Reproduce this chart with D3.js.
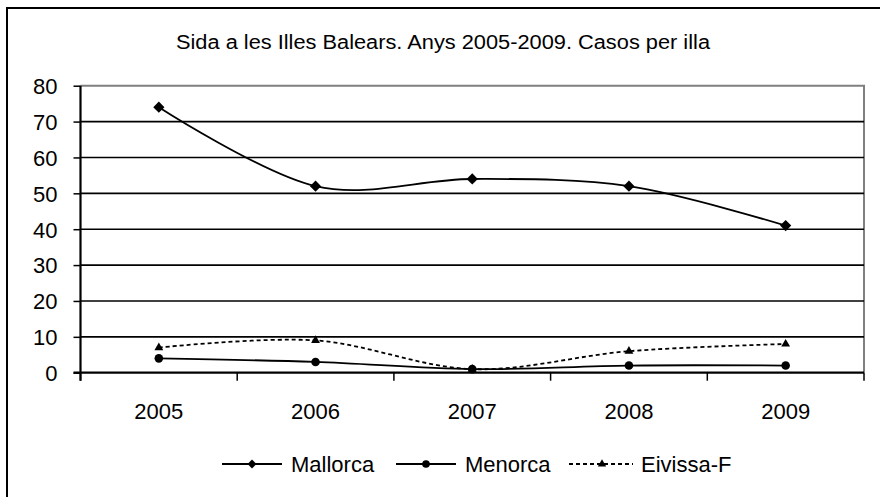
<!DOCTYPE html>
<html><head><meta charset="utf-8">
<script src="https://cdn.jsdelivr.net/npm/d3@7"></script>
<style>body{margin:0;background:#fff}svg{display:block}text{font-family:"Liberation Sans",Arial,sans-serif;fill:#000}</style>
</head><body><svg id="c" width="880" height="497"></svg>
<script>
const title = "Sida a les Illes Balears. Anys 2005-2009. Casos per illa";
const years = ["2005","2006","2007","2008","2009"];
const mallorca = [74,52,54,52,41];
const menorca = [4,3,1,2,2];
const eivissa = [7,9,1,6,8];
const yTicks = [0,10,20,30,40,50,60,70,80];
const seriesNames = ["Mallorca","Menorca","Eivissa-F"];

const svg = d3.select("#c");
const L=80.5, R=864, T=85.7, B=372.7;
const x = d3.scaleBand().domain(years).range([L,R]);
const y = d3.scaleLinear().domain([0,80]).range([B,T]);

// outer border
svg.append("rect").attr("x",7).attr("y",8).attr("width",900).attr("height",520)
  .attr("fill","none").attr("stroke","#000").attr("stroke-width",2);

svg.append("text").attr("x",443).attr("y",49).attr("text-anchor","middle")
  .attr("font-size",20).attr("textLength",534).attr("lengthAdjust","spacingAndGlyphs").text(title);

// plot border top/right gray
svg.append("path").attr("d",`M${L},${T}H${R}V${B}`).attr("fill","none").attr("stroke","#808080").attr("stroke-width",2);

// gridlines
svg.append("g").selectAll("line").data(yTicks.filter(d=>d>0&&d<80)).join("line")
  .attr("x1",L).attr("x2",R).attr("y1",d=>y(d)).attr("y2",d=>y(d))
  .attr("stroke","#000").attr("stroke-width",1.6);

// y axis
const ya = svg.append("g").attr("transform",`translate(${L},0)`)
  .call(d3.axisLeft(y).tickValues(yTicks).tickSize(7).tickPadding(16));
ya.select(".domain").remove();
ya.selectAll(".tick line").attr("stroke","#000").attr("stroke-width",1.5);
ya.selectAll("text").attr("font-size",22).attr("font-family","Liberation Sans, Arial").attr("fill","#000").attr("dy","0.36em");

// x axis line + ticks
svg.append("line").attr("x1",L-7).attr("x2",R).attr("y1",B).attr("y2",B).attr("stroke","#000").attr("stroke-width",2.2);
svg.append("g").selectAll("line").data(d3.range(years.length+1)).join("line")
  .attr("x1",i=>L+i*x.bandwidth()).attr("x2",i=>L+i*x.bandwidth())
  .attr("y1",B).attr("y2",B+8).attr("stroke","#000").attr("stroke-width",1.5);
svg.append("line").attr("x1",L).attr("x2",L).attr("y1",T).attr("y2",B+8).attr("stroke","#000").attr("stroke-width",2.2);

const cx = d=>x(d)+x.bandwidth()/2;
svg.append("g").selectAll("text").data(years).join("text")
  .attr("x",d=>cx(d)).attr("y",418.5).attr("text-anchor","middle").attr("font-size",22).text(d=>d);

const line = d3.line().curve(d3.curveCatmullRom.alpha(0));
const sers = [
  {name:seriesNames[0], vals:mallorca, sym:d3.symbolDiamond2, size:80, lsize:50, dash:null},
  {name:seriesNames[1], vals:menorca, sym:d3.symbolCircle, size:58, lsize:46, dash:null},
  {name:seriesNames[2], vals:eivissa, sym:d3.symbolTriangle, size:34, lsize:30, dash:"4,3"}
];
sers.forEach(s=>{
  const pts = years.map((yr,i)=>[cx(yr), y(s.vals[i])]);
  svg.append("path").attr("d",line(pts)).attr("fill","none").attr("stroke","#000")
    .attr("stroke-width",1.8).attr("stroke-dasharray",s.dash);
  svg.append("g").selectAll("path").data(pts).join("path")
    .attr("transform",p=>`translate(${p[0]},${p[1]})`)
    .attr("d",d3.symbol().type(s.sym).size(s.size)).attr("fill","#000");
});

// legend
const lx = [222, 396, 569];
const ly = 464;
sers.forEach((s,i)=>{
  const g = svg.append("g").attr("transform",`translate(${lx[i]},${ly})`);
  g.append("line").attr("x1",0).attr("x2",i==2?64:60).attr("y1",0).attr("y2",0).attr("stroke","#000")
    .attr("stroke-width",1.8).attr("stroke-dasharray",s.dash);
  g.append("path").attr("transform",`translate(${i==2?33:30},0)`).attr("d",d3.symbol().type(s.sym).size(s.lsize)).attr("fill","#000");
  g.append("text").attr("x",i==2?72:69).attr("y",8).attr("font-size",22).text(s.name);
});
</script></body></html>
